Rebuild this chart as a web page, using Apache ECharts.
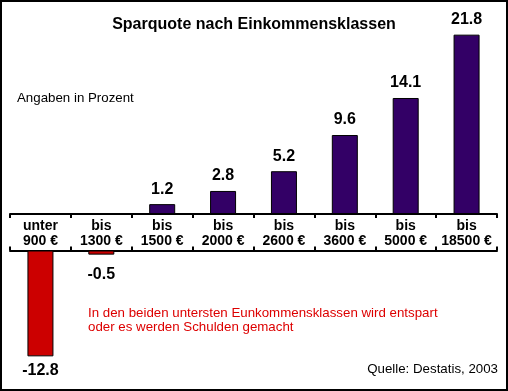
<!DOCTYPE html>
<html>
<head>
<meta charset="utf-8">
<script src="https://cdn.jsdelivr.net/npm/echarts@6/dist/echarts.min.js"></script>
<style>
html,body{margin:0;padding:0;background:#fff;}
#c{width:508px;height:391px;}
</style>
</head>
<body>
<div id="c"></div>
<script>
const categories = ['unter\n900 €', 'bis\n1300 €', 'bis\n1500 €', 'bis\n2000 €', 'bis\n2600 €', 'bis\n3600 €', 'bis\n5000 €', 'bis\n18500 €'];
const savingsRate = [-12.8, -0.5, 1.2, 2.8, 5.2, 9.6, 14.1, 21.8];
const titleText = 'Sparquote nach Einkommensklassen';
const unitText = 'Angaben in Prozent';
const noteLines = ['In den beiden untersten Eunkommensklassen wird entspart', 'oder es werden Schulden gemacht'];
const sourceText = 'Quelle: Destatis, 2003';

const FONT = '"Liberation Sans", Arial, sans-serif';
const positive = savingsRate.map(v => v > 0 ? v : '-');
const negative = savingsRate.map(v => v < 0 ? {
  value: v,
  label: { distance: v > -2 ? 12 : 6 }
} : '-');

const chart = echarts.init(document.getElementById('c'), null, { renderer: 'canvas' });
chart.setOption({
  animation: false,
  backgroundColor: '#fff',
  title: {
    text: titleText,
    left: 'center',
    top: 12,
    textStyle: { fontFamily: FONT, fontSize: 16, fontWeight: 'bold', color: '#000' }
  },
  grid: [
    { left: 10, right: 11, top: 33, bottom: 177 },
    { left: 10, right: 11, top: 250.5, bottom: 33 }
  ],
  xAxis: [
    {
      gridIndex: 0, type: 'category', data: categories, position: 'bottom',
      boundaryGap: true,
      axisLine: { show: true, lineStyle: { color: '#000', width: 2 } },
      axisTick: { show: true, length: 4, lineStyle: { color: '#000', width: 2 } },
      axisLabel: {
        show: true, margin: 5, interval: 0,
        fontFamily: FONT, fontSize: 14, fontWeight: 'bold', color: '#000', lineHeight: 14.5
      }
    },
    {
      gridIndex: 1, type: 'category', data: categories, position: 'top',
      boundaryGap: true,
      axisLine: { show: true, lineStyle: { color: '#000', width: 2 } },
      axisTick: { show: true, length: 4, lineStyle: { color: '#000', width: 2 } },
      axisLabel: { show: false }
    }
  ],
  yAxis: [
    { gridIndex: 0, type: 'value', min: 0, max: 22, show: false, splitLine: { show: false } },
    { gridIndex: 1, type: 'value', min: -13, max: 0, show: false, splitLine: { show: false } }
  ],
  series: [
    {
      type: 'bar', xAxisIndex: 0, yAxisIndex: 0, data: positive, barWidth: 26,
      itemStyle: { color: '#330066', borderColor: '#000', borderWidth: 1 },
      label: {
        show: true, position: 'top', distance: 7,
        fontFamily: FONT, fontSize: 16, fontWeight: 'bold', color: '#000'
      }
    },
    {
      type: 'bar', xAxisIndex: 1, yAxisIndex: 1, data: negative, barWidth: 26,
      itemStyle: { color: '#CC0000', borderColor: '#000', borderWidth: 1 },
      label: {
        show: true, position: 'bottom', distance: 6,
        fontFamily: FONT, fontSize: 16, fontWeight: 'bold', color: '#000'
      }
    }
  ],
  graphic: [
    {
      type: 'rect', shape: { x: 1, y: 1, width: 506, height: 389 },
      style: { fill: 'none', stroke: '#000', lineWidth: 2 }, silent: true
    },
    {
      type: 'text', left: 17, top: 92,
      style: { text: unitText, font: '13.3px ' + FONT, fill: '#000' }
    },
    {
      type: 'text', left: 88, top: 306,
      style: { text: noteLines.join('\n'), font: '13.3px ' + FONT, fill: '#DD0000', lineHeight: 14.5 }
    },
    {
      type: 'text', right: 10, top: 363,
      style: { text: sourceText, font: '13.3px ' + FONT, fill: '#000' }
    }
  ]
});
</script>
</body>
</html>
